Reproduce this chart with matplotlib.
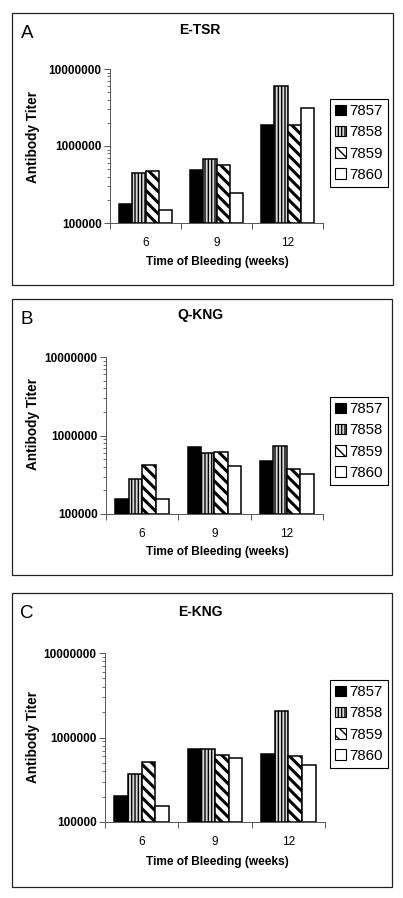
import matplotlib
matplotlib.use("Agg")
import matplotlib.pyplot as plt
from matplotlib.patches import Rectangle, Patch
from matplotlib.ticker import FixedLocator, NullFormatter, LogLocator
import numpy as np

plt.rcParams['font.family'] = ['Liberation Sans', 'DejaVu Sans']

weeks = ["6", "9", "12"]
animals = ["7857", "7858", "7859", "7860"]
panel_letters = ["A", "B", "C"]
panel_titles = ["E-TSR", "Q-KNG", "E-KNG"]

# rows: animals, columns: weeks 6, 9, 12
etsr = [[1.74e5, 4.94e5, 1.87e6],
        [4.43e5, 6.72e5, 5.97e6],
        [4.75e5, 5.62e5, 1.85e6],
        [1.49e5, 2.42e5, 3.16e6]]
qkng = [[1.54e5, 7.2e5, 4.7e5],
        [2.83e5, 5.95e5, 7.45e5],
        [4.2e5, 6.25e5, 3.79e5],
        [1.55e5, 4.14e5, 3.24e5]]
ekng = [[2.04e5, 7.25e5, 6.3e5],
        [3.65e5, 7.25e5, 2.05e6],
        [5.1e5, 6.28e5, 6.05e5],
        [1.55e5, 5.73e5, 4.74e5]]
panel_data = [etsr, qkng, ekng]
baseline = 1e5

W, H = 403, 898
fig = plt.figure(figsize=(W / 100, H / 100), dpi=100)

def fx(px):
    return px / W

def fy(py):
    return 1 - py / H

layouts = [
    dict(frame=(12, 13, 393, 285), ax=(110, 69, 323, 223), leg=(330, 99), title=30, letter=33, xlab=262, ylab=(33, 137)),
    dict(frame=(12, 299, 392, 575), ax=(106, 357, 323, 514), leg=(330, 397), title=315, letter=320, xlab=552, ylab=(33, 424)),
    dict(frame=(12, 593, 392, 887), ax=(105, 653, 325, 822), leg=(330, 680), title=612, letter=613, xlab=862, ylab=(33, 737)),
]

styles = [
    dict(facecolor="black", hatch=None, hlw=None),
    dict(facecolor="#d8d8d8", hatch="|||||", hlw=1.0),
    dict(facecolor="white", hatch="\\\\\\", hlw=2.2),
    dict(facecolor="white", hatch=None, hlw=None),
]

x = np.arange(len(weeks))
bw = 0.186

for p in range(3):
    L = layouts[p]
    fr = L["frame"]
    fig.add_artist(Rectangle((fx(fr[0]), fy(fr[3])), fx(fr[2] - fr[0]), (fr[3] - fr[1]) / H,
                             transform=fig.transFigure, fill=False, edgecolor="#222222", lw=0.9))
    l, t, r, b = L["ax"]
    ax = fig.add_axes([fx(l), fy(b), fx(r - l), (b - t) / H])
    for i, a in enumerate(animals):
        st = styles[i]
        vals = np.array(panel_data[p][i])
        bars = ax.bar(x + (i - 1.5) * bw, vals - baseline, width=bw, bottom=baseline,
                      facecolor=st["facecolor"], edgecolor="black", linewidth=1.1,
                      hatch=st["hatch"], label=a)
        if st["hlw"] is not None:
            for bar in bars:
                if hasattr(bar, "set_hatch_linewidth"):
                    bar.set_hatch_linewidth(st["hlw"])
    ax.set_yscale("log")
    ax.set_ylim(1e5, 1e7)
    ax.set_xlim(-0.5, 2.5)
    ax.yaxis.set_major_locator(FixedLocator([1e5, 1e6, 1e7]))
    ax.set_yticklabels(["100000", "1000000", "10000000"], fontsize=8.5, fontweight="bold")
    ax.yaxis.set_minor_locator(LogLocator(base=10, subs=np.arange(2, 10)))
    ax.yaxis.set_minor_formatter(NullFormatter())
    ax.set_xticks(x)
    ax.set_xticklabels(weeks, fontsize=8.5)
    ax.set_xticks([-0.5, 0.5, 1.5, 2.5], minor=True)
    ax.tick_params(axis="x", which="major", length=0, pad=10)
    ax.tick_params(axis="x", which="minor", length=4, direction="out", color="#555555", width=0.7)
    ax.tick_params(axis="y", which="major", length=4, color="#555555", width=0.7, pad=2)
    ax.tick_params(axis="y", which="minor", length=2, color="#555555", width=0.6)
    for s in ["top", "right"]:
        ax.spines[s].set_visible(False)
    for s in ["left", "bottom"]:
        ax.spines[s].set_color("#555555")
        ax.spines[s].set_linewidth(0.7)
    ax.patch.set_alpha(0)

    fig.text(fx(200), fy(L["title"]), panel_titles[p], ha="center", va="center",
             fontsize=10, fontweight="bold")
    fig.text(fx(27), fy(L["letter"]), panel_letters[p], ha="center", va="center",
             fontsize=13.5)
    fig.text(fx(217), fy(L["xlab"]), "Time of Bleeding (weeks)", ha="center", va="center",
             fontsize=8.6, fontweight="bold")
    fig.text(fx(L["ylab"][0]), fy(L["ylab"][1]), "Antibody Titer", ha="center", va="center",
             rotation=90, fontsize=9.8, fontweight="bold")

    leg_handles = [Patch(facecolor=styles[i]["facecolor"], edgecolor="black",
                         hatch=styles[i]["hatch"], linewidth=0.8) for i in range(4)]
    leg = ax.legend(leg_handles, animals, loc="upper left",
                    bbox_to_anchor=(fx(L["leg"][0]), fy(L["leg"][1])),
                    bbox_transform=fig.transFigure, fontsize=10.8, frameon=True,
                    fancybox=False, edgecolor="black", framealpha=1,
                    handlelength=0.7, handleheight=0.7, handletextpad=0.2,
                    labelspacing=0.48, borderpad=0.35, borderaxespad=0)
    leg.get_frame().set_linewidth(0.8)

fig.savefig("out.png", dpi=100)
